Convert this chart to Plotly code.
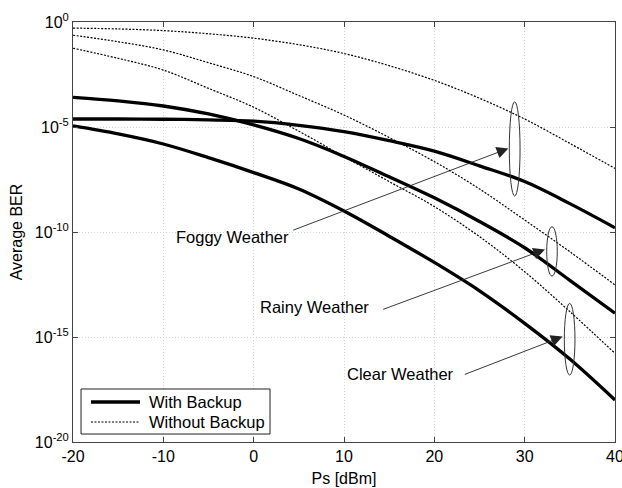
import plotly.graph_objects as go

# Ps [dBm]
ps_dbm = [-20, -15, -10, -5, 0, 5, 10, 15, 20, 25, 30, 35, 40]

# log10(Average BER)
with_foggy = [-4.62, -4.62, -4.63, -4.66, -4.72, -4.92, -5.22, -5.65, -6.15, -6.85, -7.60, -8.65, -9.80]
with_rainy = [-3.59, -3.76, -4.00, -4.38, -4.90, -5.55, -6.40, -7.37, -8.37, -9.50, -10.75, -12.30, -13.87]
with_clear = [-4.95, -5.33, -5.81, -6.46, -7.17, -7.95, -9.00, -10.20, -11.45, -12.80, -14.35, -16.05, -18.00]
without_foggy = [-0.29, -0.33, -0.41, -0.56, -0.77, -1.08, -1.50, -2.08, -2.78, -3.63, -4.62, -5.78, -6.97]
without_rainy = [-0.63, -0.94, -1.33, -1.94, -2.60, -3.50, -4.43, -5.50, -6.65, -7.95, -9.43, -10.94, -12.52]
without_clear = [-1.25, -1.73, -2.29, -3.16, -4.06, -5.20, -6.41, -7.60, -8.79, -10.22, -11.89, -13.79, -15.78]

y_tick_exps = [0, -5, -10, -15, -20]
x_ticks = [-20, -10, 0, 10, 20, 30, 40]
x_tick_text = ["-20", "-10", "0", "10", "20", "30", "40"]

labels = ["Foggy Weather", "Rainy Weather", "Clear Weather"]
legend_names = ["With Backup", "Without Backup"]

FONT = "Liberation Sans, Arial, sans-serif"
DOT = "2px,1.5px"

fig = go.Figure()

solid = [with_foggy, with_rainy, with_clear]
dotted = [without_foggy, without_rainy, without_clear]

for s in solid:
    fig.add_trace(go.Scatter(
        x=ps_dbm, y=[10 ** v for v in s], mode="lines", line_shape="spline",
        line=dict(color="black", width=3.3), name=legend_names[0],
        showlegend=False))
for s in dotted:
    fig.add_trace(go.Scatter(
        x=ps_dbm, y=[10 ** v for v in s], mode="lines", line_shape="spline",
        line=dict(color="black", width=1.2, dash=DOT), name=legend_names[1],
        showlegend=False))

# ellipses (x in data, y in data on log axis)
ellipses = [
    (28.3, 29.49, -3.80, -8.29),
    (32.44, 33.61, -9.75, -12.10),
    (34.39, 35.57, -13.40, -16.81),
]
for x0, x1, l0, l1 in ellipses:
    fig.add_shape(type="circle", xref="x", yref="y", x0=x0, x1=x1,
                  y0=10 ** l1, y1=10 ** l0, line=dict(color="#333", width=1))

# arrows: (tip x, tip log y, tail x, tail log y)
arrows = [
    (28.19, -6.02, 4.21, -9.94),
    (32.25, -10.83, 14.17, -13.71),
    (34.20, -14.98, 23.20, -16.81),
]
for tx, ty, ax, ay in arrows:
    fig.add_annotation(x=tx, y=ty, ax=ax, ay=ay, xref="x", yref="y",
                       axref="x", ayref="y", text="", showarrow=True,
                       arrowhead=2, arrowsize=2.6, arrowwidth=0.9,
                       arrowcolor="#222")

text_pos = [(-2.29, -10.24), (6.68, -13.57), (16.26, -16.76)]
for (tx, ty), lab in zip(text_pos, labels):
    fig.add_annotation(x=tx, y=ty, xref="x", yref="y", text=lab,
                       showarrow=False, xanchor="center", yanchor="middle",
                       font=dict(family=FONT, size=16.5, color="black"))

# legend box drawn in the plot-area domain
fig.add_shape(type="rect", xref="x domain", yref="y domain",
              x0=0.0148, x1=0.3635, y0=0.019, y1=0.1262,
              line=dict(color="#222", width=1), fillcolor="white", layer="above")
legend_rows = [(0.0952, dict(color="black", width=3.3)),
               (0.0476, dict(color="black", width=1.2, dash=DOT))]
for (yy, ln), name in zip(legend_rows, legend_names):
    fig.add_shape(type="line", xref="x domain", yref="y domain",
                  x0=0.0332, x1=0.1236, y0=yy, y1=yy, line=ln, layer="above")
    fig.add_annotation(x=0.1365, y=yy, xref="x domain", yref="y domain",
                       text=name, showarrow=False, xanchor="left",
                       yanchor="middle",
                       font=dict(family=FONT, size=16.5, color="black"))

fig.update_xaxes(
    range=[-20, 40], tickvals=x_ticks, ticktext=x_tick_text,
    ticks="inside", ticklen=5,
    tickcolor="#444", showline=True, linecolor="#444", linewidth=1,
    mirror="ticks", showgrid=True, gridcolor="#d4d4d4", griddash="1px,2px",
    gridwidth=1, zeroline=False, ticklabeloverflow="allow",
    tickfont=dict(family=FONT, size=16, color="black"),
    title=dict(text="Ps [dBm]", font=dict(family=FONT, size=16, color="black"),
               standoff=8))
fig.update_yaxes(
    type="log", range=[-20, 0],
    tickvals=[10 ** e for e in y_tick_exps],
    ticktext=["10<sup>%d</sup>" % e for e in y_tick_exps],
    ticks="inside", ticklen=5, tickcolor="#444",
    showline=True, linecolor="#444", linewidth=1, mirror="ticks",
    showgrid=True, gridcolor="#d4d4d4", griddash="1px,2px", gridwidth=1,
    zeroline=False, ticklabeloverflow="allow",
    tickfont=dict(family=FONT, size=16, color="black"),
    title=dict(text="Average BER", font=dict(family=FONT, size=16, color="black"),
               standoff=8))

fig.update_layout(
    width=622, height=488,
    margin=dict(l=73, r=7, t=22, b=46, autoexpand=False),
    paper_bgcolor="white", plot_bgcolor="white",
    font=dict(family=FONT, size=16, color="black"),
    showlegend=False,
)

fig.write_html("out.html", config={"displayModeBar": False},
               post_script="document.body.style.margin='0';document.body.style.overflow='hidden';")
